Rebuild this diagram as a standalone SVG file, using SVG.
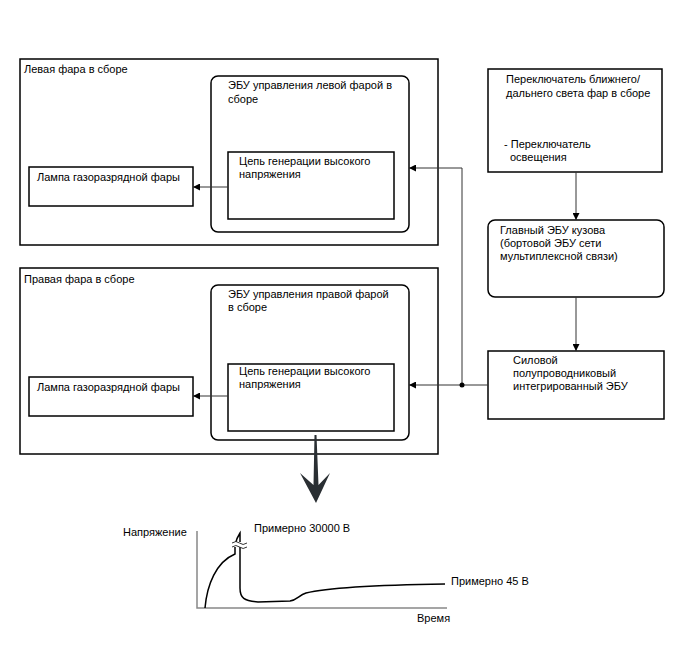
<svg xmlns="http://www.w3.org/2000/svg" width="688" height="658" viewBox="0 0 688 658">
<defs>
<marker id="ah" viewBox="0 0 10 10" refX="10" refY="5" markerWidth="9" markerHeight="7" markerUnits="userSpaceOnUse" orient="auto">
<path d="M0,0 L10,5 L0,10 Z" fill="#000"/>
</marker>
<style>
text{font-family:"Liberation Sans",Arial,sans-serif;font-size:11px;fill:#000}
.box{fill:#fff;stroke:#000;stroke-width:1.5}
.con{fill:none;stroke:#333;stroke-width:1}
.axis{fill:none;stroke:#888;stroke-width:1.5}
.curve{fill:none;stroke:#000;stroke-width:1.5}
</style>
</defs>
<rect width="688" height="658" fill="#fff"/>

<g id="left-assembly">
<rect class="box" x="20" y="59" width="418" height="186"/>
<text x="24" y="73">Левая фара в сборе</text>
</g>
<g id="left-ecu">
<rect class="box" x="211" y="76" width="198" height="156" rx="7"/>
<text x="228" y="89">ЭБУ управления левой фарой в</text>
<text x="228" y="103">сборе</text>
</g>
<g id="left-circuit">
<rect class="box" x="228" y="152" width="166" height="67"/>
<text x="239" y="165">Цепь генерации высокого</text>
<text x="239" y="178">напряжения</text>
</g>
<g id="left-lamp">
<rect class="box" x="29" y="167" width="164" height="39"/>
<text x="37" y="181">Лампа газоразрядной фары</text>
</g>

<g id="right-assembly">
<rect class="box" x="20" y="268" width="418" height="186"/>
<text x="24" y="283">Правая фара в сборе</text>
</g>
<g id="right-ecu">
<rect class="box" x="211" y="285" width="198" height="155" rx="7"/>
<text x="228" y="298">ЭБУ управления правой фарой</text>
<text x="228" y="311">в сборе</text>
</g>
<g id="right-circuit">
<rect class="box" x="228" y="364" width="166" height="67"/>
<text x="239" y="375">Цепь генерации высокого</text>
<text x="239" y="388">напряжения</text>
</g>
<g id="right-lamp">
<rect class="box" x="29" y="377" width="164" height="39"/>
<text x="37" y="391">Лампа газоразрядной фары</text>
</g>

<g id="switch">
<rect class="box" x="488" y="69" width="174" height="103"/>
<text x="506" y="83">Переключатель ближнего/</text>
<text x="506" y="97">дальнего света фар в сборе</text>
<text x="504" y="148">- Переключатель</text>
<text x="510" y="161">освещения</text>
</g>
<g id="body-ecu">
<rect class="box" x="488" y="220" width="176" height="77" rx="7"/>
<text x="500" y="234">Главный ЭБУ кузова</text>
<text x="500" y="247">(бортовой ЭБУ сети</text>
<text x="500" y="260">мультиплексной связи)</text>
</g>
<g id="power-ecu">
<rect class="box" x="488" y="351" width="176" height="68"/>
<text x="513" y="364">Силовой</text>
<text x="513" y="377">полупроводниковый</text>
<text x="513" y="390">интегрированный ЭБУ</text>
</g>

<g id="connectors">
<line class="con" x1="228" y1="187" x2="193" y2="187" marker-end="url(#ah)"/>
<line class="con" x1="228" y1="396" x2="193" y2="396" marker-end="url(#ah)"/>
<line class="con" x1="576" y1="172" x2="576" y2="220" marker-end="url(#ah)"/>
<line class="con" x1="576" y1="297" x2="576" y2="351" marker-end="url(#ah)"/>
<line class="con" x1="488" y1="385" x2="409" y2="385" marker-end="url(#ah)"/>
<polyline class="con" points="462,385 462,168 409,168" marker-end="url(#ah)"/>
<circle cx="462" cy="385" r="2.5" fill="#000"/>
<path d="M314.5,435 L316.5,435 L318.5,485 L330,473 L316,503 L300,473 L313.5,485 Z" fill="#2a2f33"/>
</g>

<g id="graph">
<polyline class="axis" points="197,531 197,608 447,608"/>
<path class="curve" d="M205,608 C207,585 216,562 235,554 L235,545 C236,540 238,536 240,533 L240,588 C240,598 244,601 258,602 L290,601 C297,600 299,595 306,593 C330,587 380,585 445,584"/>
<rect x="231" y="542" width="15" height="5" fill="#fff"/>
<path class="con" stroke="#000" d="M232,543 q4,-3 7.5,0 t7.5,0 M232,547 q4,-3 7.5,0 t7.5,0"/>
<text x="123" y="536">Напряжение</text>
<text x="254" y="532">Примерно 30000 В</text>
<text x="451" y="585">Примерно 45 В</text>
<text x="417" y="622">Время</text>
</g>
</svg>
